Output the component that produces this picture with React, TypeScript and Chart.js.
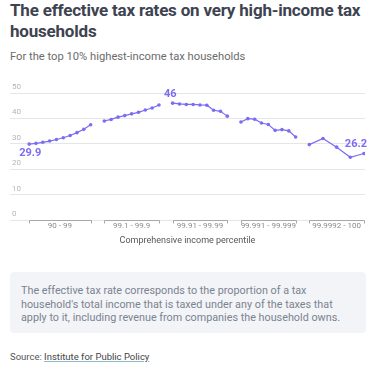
import React, { useEffect, useRef } from "react";
import { Chart, registerables } from "chart.js";

Chart.register(...registerables);

const groupLabels = ["90 - 99", "99.1 - 99.9", "99.91 - 99.99", "99.991 - 99.999", "99.9992 - 100"];
const group1 = [29.9, 30.2, 30.6, 31.1, 31.7, 32.4, 33.3, 34.4, 35.7, 37.5];
const group2 = [39.0, 39.6, 40.5, 41.1, 41.8, 42.4, 43.3, 44.1, 45.3];
const group3 = [46.0, 45.7, 45.5, 45.5, 45.3, 45.2, 43.2, 42.8, 40.9];
const group4 = [38.6, 39.9, 39.7, 38.2, 37.6, 35.3, 35.6, 35.1, 32.7];
const group5 = [29.7, 32.1, 28.7, 24.7, 26.2];
const groupStarts = [0, 11, 21, 31, 41];
const groupSteps = [1, 1, 1, 1, 2];
const groups = [group1, group2, group3, group4, group5];
const yTicks = [0, 10, 20, 30, 40, 50];
// annotated values: [group, point index, text, position]
const annotations: [number, number, string, string][] = [
  [0, 0, "29.9", "below"],
  [2, 0, "46", "aboveLeft"],
  [4, 4, "26.2", "aboveRight"],
];

const PURPLE = "#7b6cf3";

const bracketPlugin = {
  id: "brackets",
  afterDatasetsDraw(chart: any) {
    const { ctx, scales } = chart;
    const x = scales.x;
    const y = scales.y;
    const y0 = y.getPixelForValue(0);
    ctx.save();
    ctx.strokeStyle = "#a8a8a8";
    ctx.lineWidth = 1;
    groups.forEach((g, gi) => {
      const s = groupStarts[gi];
      const e = s + (g.length - 1) * groupSteps[gi];
      const x1 = Math.round(x.getPixelForValue(s)) + 0.5;
      const x2 = Math.round(x.getPixelForValue(e)) + 0.5;
      const yy = Math.round(y0) + 0.5;
      ctx.beginPath();
      ctx.moveTo(x1, yy + 3);
      ctx.lineTo(x1, yy);
      ctx.lineTo(x2, yy);
      ctx.lineTo(x2, yy + 3);
      ctx.stroke();
    });
    ctx.font = "bold 11px Roboto";
    ctx.fillStyle = PURPLE;
    annotations.forEach(([gi, pi, text, pos]) => {
      const el = chart.getDatasetMeta(gi).data[pi];
      if (!el) return;
      if (pos === "below") {
        ctx.textAlign = "left";
        ctx.textBaseline = "top";
        ctx.fillText(text, el.x - 10, el.y + 4);
      } else if (pos === "aboveLeft") {
        ctx.textAlign = "right";
        ctx.textBaseline = "bottom";
        ctx.fillText(text, el.x + 4, el.y - 3);
      } else {
        ctx.textAlign = "right";
        ctx.textBaseline = "bottom";
        ctx.fillText(text, el.x + 3, el.y - 4);
      }
    });
    ctx.restore();
  },
};

function LineChart() {
  const ref = useRef<HTMLCanvasElement>(null);
  useEffect(() => {
    if (!ref.current) return;
    const chart = new Chart(ref.current, {
      type: "line",
      data: {
        datasets: groups.map((g, gi) => ({
          data: g.map((v, i) => ({ x: groupStarts[gi] + i * groupSteps[gi], y: v })),
          borderColor: PURPLE,
          backgroundColor: PURPLE,
          borderWidth: 1.2,
          pointRadius: 1.8,
          pointBorderWidth: 0,
          tension: 0,
        })),
      },
      options: {
        animation: false,
        responsive: false,
        maintainAspectRatio: false,
        layout: { padding: { left: 6, right: 10, top: 13, bottom: 0 } },
        plugins: { legend: { display: false }, tooltip: { enabled: false } },
        scales: {
          x: {
            type: "linear",
            min: -2.8,
            max: 49.15,
            grid: { display: false, drawTicks: false },
            border: { display: false },
            afterBuildTicks: (axis: any) => {
              axis.ticks = groups.map((g, gi) => ({
                value: groupStarts[gi] + ((g.length - 1) * groupSteps[gi]) / 2,
              }));
            },
            ticks: {
              autoSkip: false,
              maxRotation: 0,
              padding: 1,
              color: "#8a8a8a",
              font: { family: "Roboto", size: 8 },
              callback: (_v: any, i: number) => groupLabels[i],
            },
            title: {
              display: true,
              text: "Comprehensive income percentile",
              color: "#555",
              font: { family: "Roboto", size: 9 },
              padding: { top: 3.5, bottom: 0 },
            },
          },
          y: {
            min: 0,
            max: 50,
            afterBuildTicks: (axis: any) => {
              axis.ticks = yTicks.map((v) => ({ value: v }));
            },
            grid: { color: "#e6e6e6", lineWidth: 1, drawTicks: false },
            border: { display: false },
            ticks: {
              mirror: true,
              padding: 2,
              labelOffset: -6,
              color: "#b5b5b5",
              font: { family: "Roboto", size: 8 },
            },
          },
        },
      },
      plugins: [bracketPlugin],
    } as any);
    return () => chart.destroy();
  }, []);
  return <canvas ref={ref} width={375} height={166} style={{ display: "block", width: 375, height: 166 }} />;
}

export default function App() {
  return (
    <div style={{ position: "absolute", left: 0, top: 0, width: 375, height: 369, background: "#fff", fontFamily: "Roboto, sans-serif" }}>
      <div style={{ position: "absolute", left: 10, top: 0, width: 360, fontSize: 17, lineHeight: "21px", fontWeight: 700, color: "#3e4350", letterSpacing: -0.2 }}>
        The effective tax rates on very high-income tax households
      </div>
      <div style={{ position: "absolute", left: 10, top: 49, fontSize: 11.2, lineHeight: "16px", color: "#6b6b6b" }}>
        For the top 10% highest-income tax households
      </div>
      <div style={{ position: "absolute", left: 0, top: 80 }}>
        <LineChart />
      </div>
      <div style={{ position: "absolute", left: 10, top: 272, width: 356, height: 61, boxSizing: "border-box", background: "#f2f4f7", borderRadius: 4, padding: "12px 11px", fontSize: 10.8, lineHeight: "13.5px", color: "#7b8390" }}>
        The effective tax rate corresponds to the proportion of a tax household's total income that is taxed under any of the taxes that apply to it, including revenue from companies the household owns.
      </div>
      <div style={{ position: "absolute", left: 10, top: 351, fontSize: 9.5, lineHeight: "12px", color: "#555" }}>
        Source: <span style={{ color: "#444", textDecoration: "underline", textDecorationColor: "#8fb8d0" }}>Institute for Public Policy</span>
      </div>
    </div>
  );
}
